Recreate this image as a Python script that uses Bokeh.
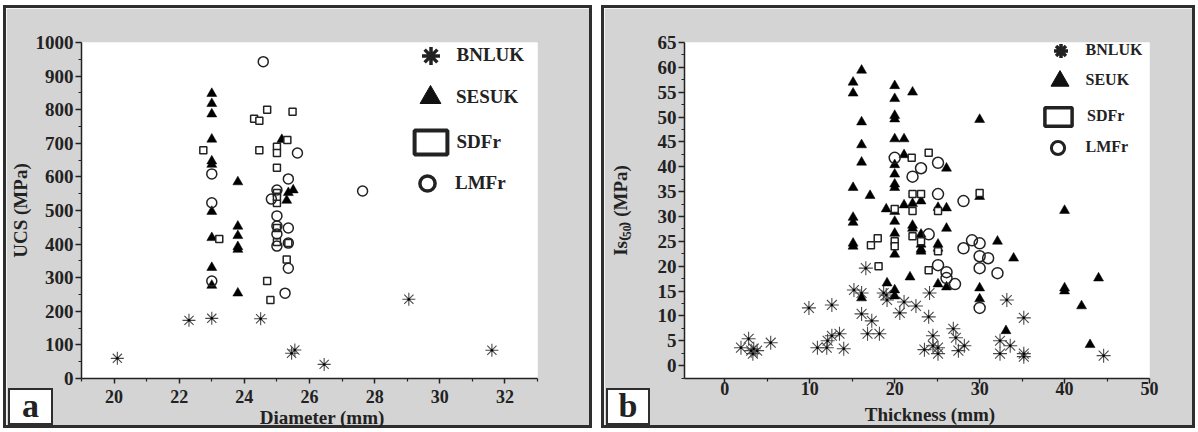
from bokeh.plotting import figure
from bokeh.models import (Legend, LegendItem, Range1d, FixedTicker, ColumnDataSource,
                          Spacer, Div)
from bokeh.layouts import row, column
from bokeh.embed import file_html
from bokeh.resources import INLINE

FONT = "Liberation Serif"
GRAY = "#d4d4d4"
STAR = "#4a4a4a"
INK = "#222222"

# ---------------- Panel a: UCS vs Diameter ----------------
a_xticks = [20, 22, 24, 26, 28, 30, 32]
a_yticks = [0, 100, 200, 300, 400, 500, 600, 700, 800, 900, 1000]

a_bnluk_d = [20.1, 22.3, 23.0, 24.5, 25.45, 25.55, 26.45, 29.05, 31.6]
a_bnluk_ucs = [60, 173, 179, 178, 75, 85, 42, 236, 84]

a_sesuk_d = [23.0, 23.0, 23.0, 23.0, 23.0, 23.0, 23.0, 23.0, 23.0, 23.0,
             23.8, 23.8, 23.8, 23.8, 23.8, 23.8, 25.15, 25.35, 25.5, 25.3]
a_sesuk_ucs = [848, 818, 787, 712, 647, 637, 497, 419, 330, 277,
               585, 453, 425, 392, 384, 254, 711, 553, 561, 530]

a_sdfr_d = [22.74, 24.3, 24.46, 24.7, 25.48, 24.46, 25.0, 25.0, 25.32, 25.0,
            25.0, 25.0, 23.23, 25.0, 25.0, 25.0, 25.35, 25.3, 24.7, 24.8]
a_sdfr_ucs = [679, 773, 767, 800, 794, 679, 690, 671, 710, 627,
              552, 522, 415, 541, 448, 406, 403, 354, 290, 234]

a_lmfr_d = [24.58, 23.0, 25.63, 25.35, 25.0, 23.0, 24.83, 25.0, 27.63, 25.0,
            25.0, 25.0, 25.35, 25.35, 25.35, 25.25, 23.0]
a_lmfr_ucs = [943, 609, 671, 594, 561, 523, 534, 484, 558, 454,
              430, 394, 448, 403, 328, 254, 290]

# ---------------- Panel b: Is(50) vs Thickness ----------------
b_xticks = [0, 10, 20, 30, 40, 50]
b_yticks = [0, 5, 10, 15, 20, 25, 30, 35, 40, 45, 50, 55, 60, 65]

b_bnluk_t = [1.9, 2.8, 3.1, 3.4, 3.8, 3.3, 5.4, 9.9, 12.6, 10.9, 12.0, 12.1,
             12.6, 13.5, 14.0, 15.2, 16.1, 16.1, 17.3, 16.8, 18.2, 16.6, 19.0,
             19.1, 18.7, 20.6, 21.1, 22.5, 24.1, 24.0, 24.5, 23.5, 24.5, 25.1,
             25.1, 26.9, 27.2, 27.5, 28.2, 33.2, 32.4, 32.4, 33.6, 35.2, 35.2,
             35.2, 44.6]
b_bnluk_is = [3.6, 5.4, 3.0, 3.4, 3.0, 2.4, 4.6, 11.6, 12.2, 3.6, 3.6, 5.0,
              6.0, 6.4, 3.4, 15.2, 14.6, 10.4, 9.0, 6.4, 6.4, 19.6, 14.2,
              13.2, 14.6, 10.6, 12.8, 12.0, 14.6, 9.8, 6.0, 3.2, 4.0, 3.6,
              2.4, 7.4, 5.6, 3.0, 4.0, 13.2, 5.0, 2.4, 4.0, 9.6, 2.4,
              1.8, 2.0]

b_seuk_t = [15.1, 15.1, 15.1, 15.1, 15.1, 15.1, 15.1,
            16.1, 16.1, 16.1, 16.1, 16.1, 17.1, 19.0, 19.1,
            20.0, 20.0, 20.0, 20.0, 20.0, 20.0, 20.0, 20.0, 20.0, 20.0,
            20.0, 20.0, 20.0, 20.0, 20.0,
            21.1, 21.1, 21.1, 21.8, 22.1, 22.1, 22.1, 22.1,
            23.1, 23.1, 23.1, 23.1, 23.1, 25.1, 25.1, 25.1, 25.1,
            26.1, 26.1, 26.1, 26.1, 30.0, 30.0, 30.0, 30.0,
            32.1, 34.0, 33.1, 40.0, 40.0, 40.0, 44.0, 42.0, 43.0]
b_seuk_is = [57.0, 54.8, 35.8, 29.8, 28.8, 24.6, 24.0,
             59.4, 49.0, 44.4, 40.9, 13.6, 34.2, 31.5, 16.6,
             56.3, 53.7, 50.3, 49.6, 45.6, 40.4, 38.5, 36.5, 35.8, 31.0,
             29.0, 26.6, 22.4, 15.2, 14.0,
             45.6, 42.4, 32.3, 17.8, 55.0, 32.6, 28.2, 27.6,
             33.1, 26.4, 24.4, 23.4, 23.0, 31.8, 24.4, 23.6, 16.4,
             39.7, 31.7, 27.6, 15.8, 49.5, 34.0, 15.6, 13.4,
             25.0, 21.6, 7.0, 31.2, 15.6, 15.0, 17.6, 12.0, 4.2]

b_sdfr_t = [17.2, 18.0, 18.1, 20.0, 20.0, 20.0, 22.0, 24.0, 22.1, 23.1, 22.1,
            25.1, 30.0, 22.1, 23.1, 25.1, 24.0]
b_sdfr_is = [24.2, 25.6, 20.0, 31.5, 25.0, 24.0, 41.8, 42.8, 34.5, 34.5, 31.1,
             31.1, 34.7, 26.0, 25.0, 23.0, 19.2]

b_lmfr_t = [20.0, 22.1, 23.1, 25.1, 25.1, 28.1, 24.0, 28.1, 29.1, 30.0, 30.0,
            31.0, 30.0, 32.1, 25.1, 26.1, 26.1, 27.1, 30.0]
b_lmfr_is = [41.8, 38.0, 39.7, 40.8, 34.5, 33.1, 26.4, 23.6, 25.2, 24.6, 22.0,
             21.6, 19.6, 18.6, 20.2, 18.8, 17.6, 16.4, 11.6]

legend_a = ["BNLUK", "SESUK", "SDFr", "LMFr"]
legend_b = ["BNLUK", "SEUK", "SDFr", "LMFr"]


def make_fig(w, h, bl, br, bt, bb, xr, yr, xt, xm, yt, ym, xfs, yfs, xstand, ystand,
             ylabel, yls):
    p = figure(width=w, height=h, x_range=Range1d(*xr), y_range=Range1d(*yr),
               output_backend="svg", toolbar_location=None,
               min_border_left=bl, min_border_right=br,
               min_border_top=bt, min_border_bottom=bb)
    p.border_fill_color = GRAY
    p.background_fill_color = "white"
    p.outline_line_color = None
    p.grid.visible = False
    p.styles = {"border": "3px solid #2e2e2e"}
    p.extra_x_ranges = {"off": Range1d(1e6, 1e6 + 1)}
    p.xaxis.ticker = FixedTicker(ticks=xt, minor_ticks=xm)
    p.yaxis.ticker = FixedTicker(ticks=yt, minor_ticks=ym)
    p.yaxis.axis_label = ylabel
    p.yaxis.axis_label_standoff = yls
    for ax, fs, st in ((p.xaxis, xfs, xstand), (p.yaxis, yfs, ystand)):
        ax.axis_line_width = 1.5
        ax.axis_line_color = INK
        ax.major_tick_line_width = 1.5
        ax.major_tick_line_color = INK
        ax.minor_tick_line_width = 1.2
        ax.minor_tick_line_color = INK
        ax.major_tick_in = 0
        ax.major_tick_out = 5
        ax.minor_tick_in = 0
        ax.minor_tick_out = 3
        ax.major_label_text_font = FONT
        ax.major_label_text_font_style = "bold"
        ax.major_label_text_font_size = fs
        ax.major_label_text_color = INK
        ax.major_label_standoff = st
        ax.axis_label_text_font = FONT
        ax.axis_label_text_font_style = "bold"
        ax.axis_label_text_font_size = "19px"
        ax.axis_label_text_color = INK
    p.yaxis.major_tick_out = 6
    return p


def add_key(p, fx0, fy1, r, label, cx, cy, gw, gh, tx, fs):
    lg = Legend(items=[LegendItem(label=label, renderers=[r])],
                location=(cx - gw / 2 - fx0, fy1 - (cy + gh / 2)),
                glyph_width=int(gw), glyph_height=int(gh),
                label_standoff=int(round(tx - (cx + gw / 2))),
                padding=0, margin=0, spacing=0,
                border_line_color=None, background_fill_alpha=0,
                label_text_font=FONT, label_text_font_style="bold",
                label_text_font_size=fs, label_text_color=INK,
                label_height=int(gh))
    p.add_layout(lg)


def draw_panel(p, bx, by, tx, ty, sx, sy, cx, cy, tri, sq, circ, star):
    s_src = ColumnDataSource(dict(x=bx, y=by))
    t_src = ColumnDataSource(dict(x=tx, y=ty))
    q_src = ColumnDataSource(dict(x=sx, y=sy))
    c_src = ColumnDataSource(dict(x=cx, y=cy))
    p.scatter("x", "y", source=s_src, marker="asterisk", size=star,
              line_color=STAR, line_width=1.1)
    p.scatter("x", "y", source=s_src, marker="circle", size=2.5,
              fill_color="black", line_color=None)
    p.scatter("x", "y", source=t_src, marker="triangle", size=tri, fill_color="black",
              line_color="black", line_width=0.5)
    p.scatter("x", "y", source=q_src, marker="square", size=sq, fill_color="white",
              line_color=INK, line_width=1.5)
    p.scatter("x", "y", source=c_src, marker="circle", size=circ, fill_color=None,
              line_color=INK, line_width=1.5)
    return s_src, t_src, q_src, c_src


def legend_proxies(p, srcs, star_lw, sq_lw, circ_lw):
    # key glyphs share the series' data but sit on an off-screen range
    s_src, t_src, q_src, c_src = srcs
    k_star = p.scatter("x", "y", source=s_src, x_range_name="off", marker="asterisk",
                       line_color=INK, line_width=star_lw)
    k_tri = p.scatter("x", "y", source=t_src, x_range_name="off", marker="triangle",
                      fill_color="#111111", line_color="#111111")
    k_sq = p.rect("x", "y", width=1, height=1, source=q_src, x_range_name="off",
                  fill_color=None, line_color=INK, line_width=sq_lw)
    k_circ = p.scatter("x", "y", source=c_src, x_range_name="off", marker="circle",
                       fill_color=None, line_color=INK, line_width=circ_lw)
    return k_star, k_tri, k_sq, k_circ


def abs_div(text, left, top, width, height, fs, boxed=False, lh=None):
    st = {"position": "absolute", "left": f"{left}px", "top": f"{top}px",
          "z-index": "10", "font-family": FONT, "font-weight": "bold",
          "font-size": fs, "color": INK, "text-align": "center",
          "line-height": lh or f"{height}px", "white-space": "nowrap"}
    if boxed:
        st.update({"border": "2px solid #2e2e2e", "background-color": "white",
                   "box-sizing": "border-box"})
    return Div(text=text, width=width, height=height, margin=0, styles=st)


# ---------------- figure a ----------------
H = 423
WA = 589
pa = make_fig(WA, H, 75, 58, 34, 53, (19, 33), (0, 1000),
              a_xticks, [19, 21, 23, 25, 27, 29, 31, 33],
              a_yticks, [50, 150, 250, 350, 450, 550, 650, 750, 850, 950],
              "18px", "19px", 6, 2, "UCS (MPa)", 2)
srcs_a = draw_panel(pa, a_bnluk_d, a_bnluk_ucs, a_sesuk_d, a_sesuk_ucs,
                    a_sdfr_d, a_sdfr_ucs, a_lmfr_d, a_lmfr_ucs, 10, 7, 10, 13)
ka = legend_proxies(pa, srcs_a, 3.5, 4, 3.5)
# page coordinates of frame a: left 81, bottom 378
add_key(pa, 81, 378, ka[0], legend_a[0], 430, 55, 45, 45, 456, "19px")
add_key(pa, 81, 378, ka[1], legend_a[1], 430, 97, 52, 52, 456, "19px")
add_key(pa, 81, 378, ka[2], legend_a[2], 430, 142, 41, 30, 457, "19px")
add_key(pa, 81, 378, ka[3], legend_a[3], 427, 183, 38, 38, 455, "19px")

# ---------------- figure b ----------------
WB = 594
pb = make_fig(WB, H, 80, 49, 32, 53, (-4.75, 50), (-2.6, 65),
              b_xticks, [5, 15, 25, 35, 45],
              b_yticks, [-2.5, 2.5, 7.5, 12.5, 17.5, 22.5, 27.5, 32.5, 37.5, 42.5,
                         47.5, 52.5, 57.5, 62.5],
              "18px", "19px", -2, 2, "Is\u208d\u2085\u2080\u208e (MPa)", 24)
srcs_b = draw_panel(pb, b_bnluk_t, b_bnluk_is, b_seuk_t, b_seuk_is,
                    b_sdfr_t, b_sdfr_is, b_lmfr_t, b_lmfr_is, 10, 7, 11, 14)
kb = legend_proxies(pb, srcs_b, 3.5, 3.5, 3)
# page coordinates of frame b: left 684, bottom 378
add_key(pb, 684, 378, kb[0], legend_b[0], 1060, 50, 35, 35, 1086, "16px")
add_key(pb, 684, 378, kb[1], legend_b[1], 1059, 80, 45, 45, 1086, "16px")
add_key(pb, 684, 378, kb[2], legend_b[2], 1058, 116, 34, 23, 1087, "16px")
add_key(pb, 684, 378, kb[3], legend_b[3], 1057, 147, 33, 33, 1086, "16px")

# axis titles below the x axes and the panel letters
xlab_a = abs_div("Diameter (mm)", 222, 407, 200, 22, "19px")
xlab_b = abs_div("Thickness (mm)", 830, 404, 200, 22, "19px")
let_a = abs_div("a", 8, 388, 45, 37, "34px", boxed=True, lh="31px")
let_b = abs_div("b", 606, 388, 44, 37, "34px", boxed=True, lh="31px")

layout = column(Spacer(height=5),
                row(Spacer(width=3), pa, Spacer(width=9), pb, spacing=0),
                xlab_a, xlab_b, let_a, let_b,
                spacing=0)
open("out.html", "w").write(file_html(layout, INLINE))
